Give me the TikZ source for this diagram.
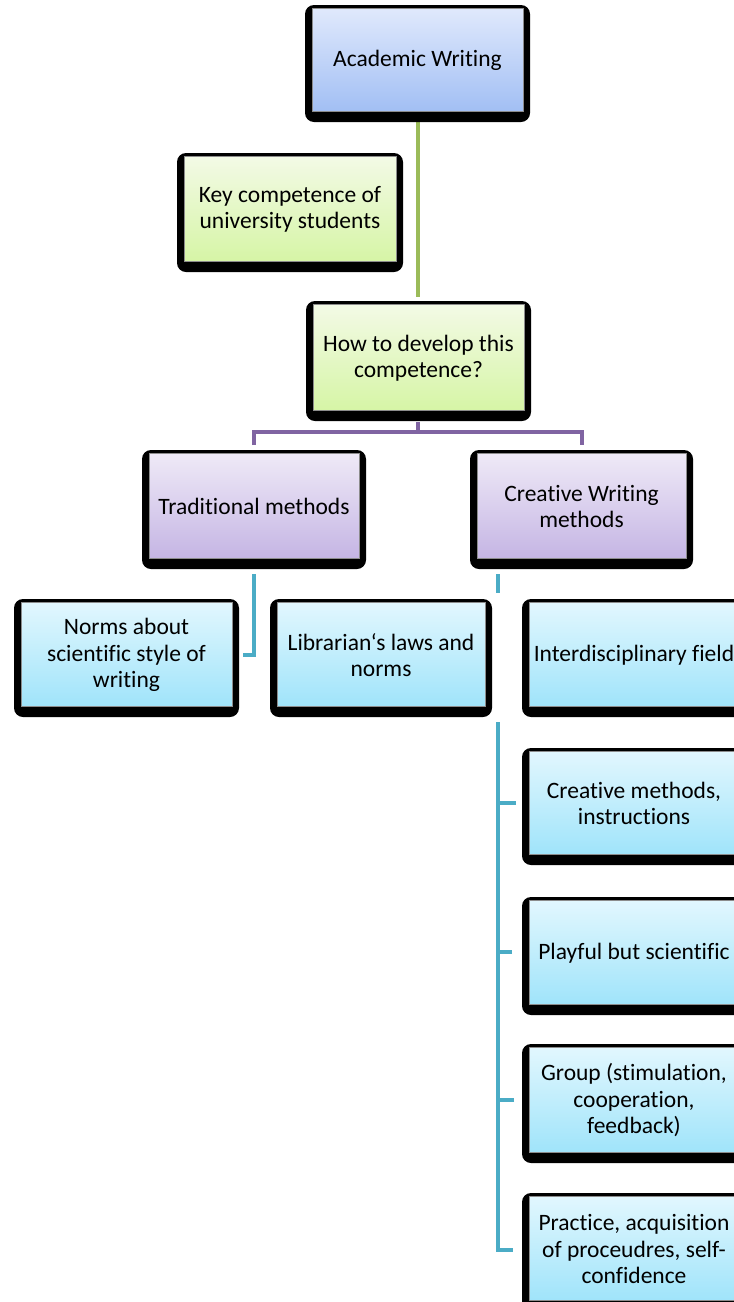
\documentclass[tikz,border=0pt]{standalone}
\usepackage{fontspec}
\setmainfont{Carlito}[Ligatures={NoCommon,NoContextual}]
\usetikzlibrary{calc}
\definecolor{acadTop}{RGB}{224,233,252}
\definecolor{acadBot}{RGB}{162,191,244}
\definecolor{greenTop}{RGB}{243,250,230}
\definecolor{greenBot}{RGB}{214,245,166}
\definecolor{purpTop}{RGB}{239,234,247}
\definecolor{purpBot}{RGB}{197,181,228}
\definecolor{cyanTop}{RGB}{226,247,254}
\definecolor{cyanBot}{RGB}{160,228,250}
\definecolor{lnGreen}{RGB}{155,187,89}
\definecolor{lnPurple}{RGB}{128,100,162}
\definecolor{lnBlue}{RGB}{75,172,198}
\tikzset{
  acadfill/.style={top color=acadTop,bottom color=acadBot},
  greenfill/.style={top color=greenTop,bottom color=greenBot},
  purpfill/.style={top color=purpTop,bottom color=purpBot},
  cyanfill/.style={top color=cyanTop,bottom color=cyanBot},
  outerbox/.style={fill=black,rounded corners=9pt},
  innerbox/.style={draw=black!45,line width=0.7pt},
  lbl/.style={align=center,font=\fontsize{23.5}{26.5}\selectfont,inner sep=0pt},
  greenline/.style={draw=lnGreen,line width=4.5pt},
  purpline/.style={draw=lnPurple,line width=4.5pt},
  blueline/.style={draw=lnBlue,line width=4.5pt}
}
\newcommand{\sabox}[7]{%
  \path[outerbox] (#2,#3) rectangle (#4,#5);
  \path[innerbox,#6] ($(#2,#3)+(7,3)$) rectangle ($(#4,#5)+(-7,-11)$);
  \node[lbl] (#1) at ($(#2,#3)!0.5!(#4,#5)+(0,-3)$) {#7};
}
\begin{document}
\begin{tikzpicture}[x=1pt,y=-1pt]
\useasboundingbox (0,0) rectangle (734,1302);
\clip (0,0) rectangle (734,1302);
% connectors
\coordinate (g1) at (418,122);
\coordinate (g2) at (418,297);
\draw[greenline] (g1) -- (g2);
\coordinate (p0) at (418,422);
\coordinate (p1) at (418,432);
\coordinate (pl) at (254,445);
\coordinate (pr) at (582,445);
\draw[purpline] (p0) -- (p1);
\draw[purpline] (pl) |- (p1) -| (pr);
\coordinate (b1) at (254,574);
\coordinate (b2) at (243,655);
\draw[blueline] (b1) |- (b2);
\coordinate (c1) at (498,574);
\coordinate (c2) at (498,593);
\draw[blueline] (c1) -- (c2);
\coordinate (c3) at (498,722);
\coordinate (c4) at (513,1250);
\draw[blueline] (c3) |- (c4);
\coordinate (t1) at (516,803);
\coordinate (t2) at (512,952);
\coordinate (t3) at (514,1100);
\draw[blueline] (t1) -- (498,803);
\draw[blueline] (t2) -- (498,952);
\draw[blueline] (t3) -- (498,1100);
% boxes
\sabox{aw}{305}{5}{530}{122}{acadfill}{Academic Writing}
\sabox{kc}{177}{153}{403}{272}{greenfill}{Key competence of\\university students}
\sabox{hd}{306}{301}{531}{421}{greenfill}{How to develop this\\competence?}
\sabox{tm}{142}{450}{366}{569}{purpfill}{Traditional methods}
\sabox{cw}{470}{450}{693}{569}{purpfill}{Creative Writing\\methods}
\sabox{nm}{14}{599}{239}{717}{cyanfill}{Norms about\\scientific style of\\writing}
\sabox{ll}{270}{599}{492}{717}{cyanfill}{Librarian‘s laws and\\norms}
\sabox{id}{522}{599}{746}{717}{cyanfill}{Interdisciplinary field}
\sabox{cm}{522}{748}{746}{865}{cyanfill}{Creative methods,\\instructions}
\sabox{pb}{522}{897}{746}{1015}{cyanfill}{Playful but scientific}
\sabox{gr}{522}{1044}{746}{1163}{cyanfill}{Group (stimulation,\\cooperation,\\feedback)}
\sabox{pa}{522}{1193}{746}{1311}{cyanfill}{Practice, acquisition\\of proceudres, self-\\confidence}
\end{tikzpicture}
\end{document}
